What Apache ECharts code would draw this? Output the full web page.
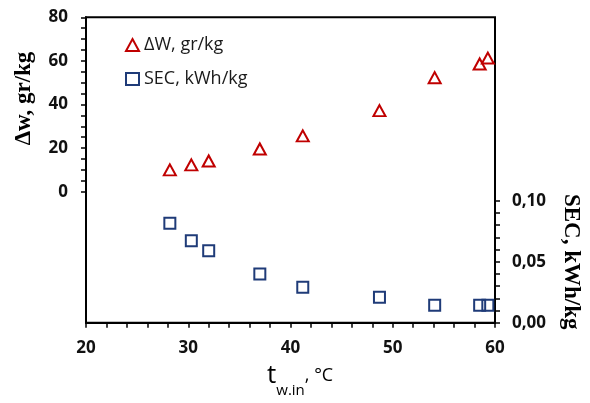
<!DOCTYPE html>
<html>
<head>
<meta charset="utf-8">
<script src="https://cdn.jsdelivr.net/npm/echarts@6/dist/echarts.min.js"></script>
<style>
html,body{margin:0;padding:0;background:#fff;}
#chart{width:590px;height:403px;}
</style>
</head>
<body>
<div id="chart"></div>
<script>
// Data
const tIn = [28.2, 30.3, 32.0, 37.0, 41.2, 48.7, 54.1, 58.5, 59.3];
const deltaW = [10.0, 12.3, 14.1, 19.6, 25.6, 37.2, 52.3, 58.6, 61.3];
const sec = [0.0815, 0.0672, 0.059, 0.040, 0.029, 0.0208, 0.0143, 0.0143, 0.0143];
const seriesNames = ['ΔW, gr/kg', 'SEC, kWh/kg'];
const xTicks = [20, 30, 40, 50, 60];
const leftTicks = [0, 20, 40, 60, 80];
const rightTicks = [0, 0.05, 0.10];

const RED = '#C00000';
const NAVY = '#1F3B78';
const labelFont = {fontFamily: 'Open Sans', fontWeight: 'bold', fontSize: 17, color: '#111'};
const axisLine = {show: true, lineStyle: {color: '#000', width: 2}};
const tick = {show: true, length: 5, lineStyle: {color: '#000', width: 1.5}};
const minor = (n) => ({show: true, splitNumber: n, length: 5, lineStyle: {color: '#000', width: 1.5}});

const G = {left: 86, right: 95};

const chart = echarts.init(document.getElementById('chart'), null, {renderer: 'canvas'});
chart.setOption({
  animation: false,
  backgroundColor: '#fff',
  grid: [
    {left: G.left, right: G.right, top: 17.3, bottom: 80.3, show: true, borderColor: '#000', borderWidth: 2},
    {left: G.left, right: G.right, top: 17.3, height: 174.4},
    {left: G.left, right: G.right, top: 200.7, bottom: 80.3}
  ],
  xAxis: [
    {gridIndex: 0, type: 'value', min: xTicks[0], max: xTicks[xTicks.length-1], interval: 10,
     axisLine: axisLine, axisTick: tick, minorTick: minor(5), splitLine: {show: false},
     axisLabel: Object.assign({margin: 17}, labelFont)},
    {gridIndex: 1, type: 'value', min: 20, max: 60, show: false},
    {gridIndex: 2, type: 'value', min: 20, max: 60, show: false}
  ],
  yAxis: [
    {gridIndex: 0, type: 'value', show: false, min: 0, max: 1},
    {gridIndex: 1, type: 'value', position: 'left', min: leftTicks[0], max: leftTicks[leftTicks.length-1], interval: 20,
     axisLine: axisLine, axisTick: tick, minorTick: minor(4), splitLine: {show: false},
     axisLabel: Object.assign({margin: 18}, labelFont),
     name: 'Δw, gr/kg', nameLocation: 'middle', nameRotate: 90, nameGap: 50,
     nameTextStyle: {fontFamily: 'Liberation Serif', fontWeight: 'bold', fontSize: 23, color: '#000', padding: [0,0,0,12]}},
    {gridIndex: 2, type: 'value', position: 'right', min: rightTicks[0], max: rightTicks[rightTicks.length-1], interval: 0.05,
     axisLine: axisLine, axisTick: tick, minorTick: minor(5), splitLine: {show: false},
     axisLabel: Object.assign({margin: 17, formatter: v => v.toFixed(2).replace('.', ',')}, labelFont),
     name: 'SEC, kWh/kg', nameLocation: 'middle', nameRotate: -90, nameGap: 64,
     nameTextStyle: {fontFamily: 'Liberation Serif', fontWeight: 'bold', fontSize: 23, color: '#000'}}
  ],
  legend: {
    orient: 'vertical', left: 120, top: 31, itemGap: 16, itemWidth: 13, itemHeight: 12,
    textStyle: {fontFamily: 'Open Sans', fontSize: 18, color: '#1a1a1a'},
    data: [
      {name: seriesNames[0], icon: 'triangle', itemStyle: {color: 'transparent', borderColor: RED, borderWidth: 2}},
      {name: seriesNames[1], icon: 'rect', itemStyle: {color: 'transparent', borderColor: NAVY, borderWidth: 2}}
    ]
  },
  graphic: [{
    type: 'text', left: 267, top: 363,
    style: {
      text: '{t|t}{s|w.in}{c|, °C}',
      rich: {
        t: {fontFamily: 'Open Sans', fontSize: 26, color: '#000', lineHeight: 44, verticalAlign: 'middle'},
        s: {fontFamily: 'Open Sans', fontSize: 15, color: '#000', lineHeight: 15, verticalAlign: 'bottom'},
        c: {fontFamily: 'Open Sans', fontSize: 18, color: '#000', lineHeight: 44, verticalAlign: 'middle'}
      }
    }
  }],
  series: [
    {name: seriesNames[0], type: 'scatter', xAxisIndex: 1, yAxisIndex: 1,
     symbol: 'triangle', symbolSize: [12, 11],
     itemStyle: {color: 'transparent', borderColor: RED, borderWidth: 2, opacity: 1},
     data: tIn.map((x, i) => [x, deltaW[i]])},
    {name: seriesNames[1], type: 'scatter', xAxisIndex: 2, yAxisIndex: 2,
     symbol: 'rect', symbolSize: 11,
     itemStyle: {color: 'transparent', borderColor: NAVY, borderWidth: 2, opacity: 1},
     data: tIn.map((x, i) => [x, sec[i]])}
  ]
});
</script>
</body>
</html>
